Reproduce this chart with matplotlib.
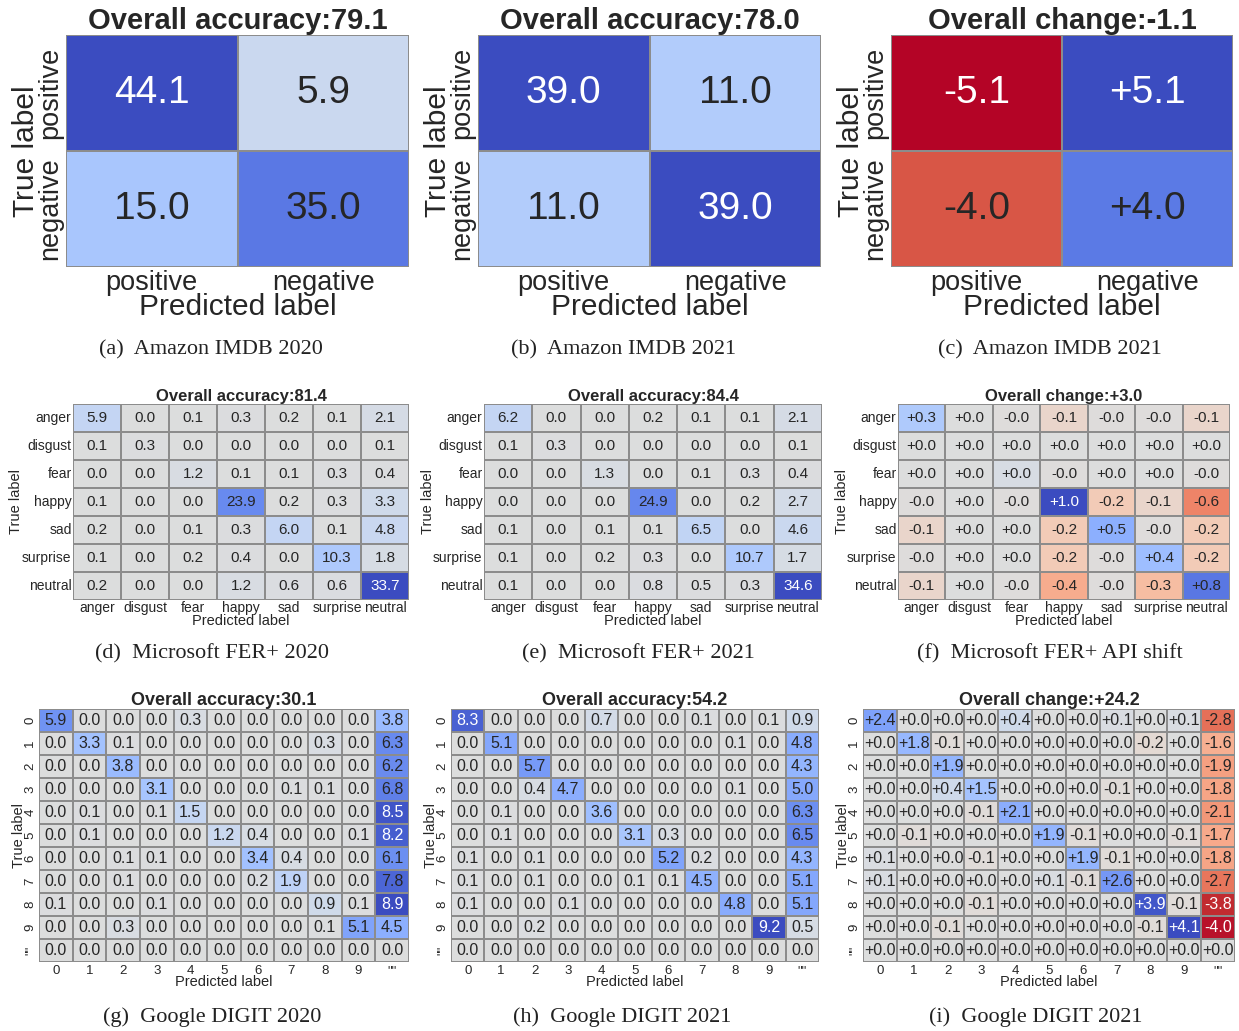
import numpy as np
import matplotlib
matplotlib.use("Agg")
import matplotlib.pyplot as plt
from matplotlib.colors import Normalize, to_rgb

plt.rcParams['font.family'] = ['Liberation Sans', 'DejaVu Sans']

# ---- data ----
imdb_labels = ["positive", "negative"]
imdb_2020 = [[44.1, 5.9], [15.0, 35.0]]
imdb_2021 = [[39.0, 11.0], [11.0, 39.0]]
imdb_diff = [[-5.1, 5.1], [-4.0, 4.0]]
imdb_acc = [79.1, 78.0, -1.1]

fer_labels = ["anger", "disgust", "fear", "happy", "sad", "surprise", "neutral"]
fer_2020 = [[5.9, 0.0, 0.1, 0.3, 0.2, 0.1, 2.1],
            [0.1, 0.3, 0.0, 0.0, 0.0, 0.0, 0.1],
            [0.0, 0.0, 1.2, 0.1, 0.1, 0.3, 0.4],
            [0.1, 0.0, 0.0, 23.9, 0.2, 0.3, 3.3],
            [0.2, 0.0, 0.1, 0.3, 6.0, 0.1, 4.8],
            [0.1, 0.0, 0.2, 0.4, 0.0, 10.3, 1.8],
            [0.2, 0.0, 0.0, 1.2, 0.6, 0.6, 33.7]]
fer_2021 = [[6.2, 0.0, 0.0, 0.2, 0.1, 0.1, 2.1],
            [0.1, 0.3, 0.0, 0.0, 0.0, 0.0, 0.1],
            [0.0, 0.0, 1.3, 0.0, 0.1, 0.3, 0.4],
            [0.0, 0.0, 0.0, 24.9, 0.0, 0.2, 2.7],
            [0.1, 0.0, 0.1, 0.1, 6.5, 0.0, 4.6],
            [0.1, 0.0, 0.2, 0.3, 0.0, 10.7, 1.7],
            [0.1, 0.0, 0.0, 0.8, 0.5, 0.3, 34.6]]
fer_diff = [[0.3, 0.0, -0.01, -0.1, -0.01, -0.01, -0.1],
            [0.0, 0.0, 0.0, 0.0, 0.0, 0.0, 0.0],
            [0.0, 0.0, 0.04, -0.01, 0.0, 0.0, -0.01],
            [-0.01, 0.0, -0.01, 1.0, -0.2, -0.1, -0.6],
            [-0.1, 0.0, 0.0, -0.2, 0.5, -0.01, -0.2],
            [-0.01, 0.0, 0.0, -0.2, -0.01, 0.4, -0.2],
            [-0.1, 0.0, -0.01, -0.4, -0.01, -0.3, 0.8]]
fer_acc = [81.4, 84.4, 3.0]

digit_labels = ["0", "1", "2", "3", "4", "5", "6", "7", "8", "9", '""']
digit_2020 = [[5.9, 0.0, 0.0, 0.0, 0.3, 0.0, 0.0, 0.0, 0.0, 0.0, 3.8],
              [0.0, 3.3, 0.1, 0.0, 0.0, 0.0, 0.0, 0.0, 0.3, 0.0, 6.3],
              [0.0, 0.0, 3.8, 0.0, 0.0, 0.0, 0.0, 0.0, 0.0, 0.0, 6.2],
              [0.0, 0.0, 0.0, 3.1, 0.0, 0.0, 0.0, 0.1, 0.1, 0.0, 6.8],
              [0.0, 0.1, 0.0, 0.1, 1.5, 0.0, 0.0, 0.0, 0.0, 0.0, 8.5],
              [0.0, 0.1, 0.0, 0.0, 0.0, 1.2, 0.4, 0.0, 0.0, 0.1, 8.2],
              [0.0, 0.0, 0.1, 0.1, 0.0, 0.0, 3.4, 0.4, 0.0, 0.0, 6.1],
              [0.0, 0.0, 0.1, 0.0, 0.0, 0.0, 0.2, 1.9, 0.0, 0.0, 7.8],
              [0.1, 0.0, 0.0, 0.1, 0.0, 0.0, 0.0, 0.0, 0.9, 0.1, 8.9],
              [0.0, 0.0, 0.3, 0.0, 0.0, 0.0, 0.0, 0.0, 0.1, 5.1, 4.5],
              [0.0, 0.0, 0.0, 0.0, 0.0, 0.0, 0.0, 0.0, 0.0, 0.0, 0.0]]
digit_2021 = [[8.3, 0.0, 0.0, 0.0, 0.7, 0.0, 0.0, 0.1, 0.0, 0.1, 0.9],
              [0.0, 5.1, 0.0, 0.0, 0.0, 0.0, 0.0, 0.0, 0.1, 0.0, 4.8],
              [0.0, 0.0, 5.7, 0.0, 0.0, 0.0, 0.0, 0.0, 0.0, 0.0, 4.3],
              [0.0, 0.0, 0.4, 4.7, 0.0, 0.0, 0.0, 0.0, 0.1, 0.0, 5.0],
              [0.0, 0.1, 0.0, 0.0, 3.6, 0.0, 0.0, 0.0, 0.0, 0.0, 6.3],
              [0.0, 0.1, 0.0, 0.0, 0.0, 3.1, 0.3, 0.0, 0.0, 0.0, 6.5],
              [0.1, 0.0, 0.1, 0.0, 0.0, 0.0, 5.2, 0.2, 0.0, 0.0, 4.3],
              [0.1, 0.0, 0.1, 0.0, 0.0, 0.1, 0.1, 4.5, 0.0, 0.0, 5.1],
              [0.1, 0.0, 0.0, 0.1, 0.0, 0.0, 0.0, 0.0, 4.8, 0.0, 5.1],
              [0.0, 0.0, 0.2, 0.0, 0.0, 0.0, 0.0, 0.0, 0.0, 9.2, 0.5],
              [0.0, 0.0, 0.0, 0.0, 0.0, 0.0, 0.0, 0.0, 0.0, 0.0, 0.0]]
digit_diff = [[2.4, 0.0, 0.0, 0.0, 0.4, 0.0, 0.0, 0.1, 0.0, 0.1, -2.8],
              [0.0, 1.8, -0.1, 0.0, 0.0, 0.0, 0.0, 0.0, -0.2, 0.0, -1.6],
              [0.0, 0.0, 1.9, 0.0, 0.0, 0.0, 0.0, 0.0, 0.0, 0.0, -1.9],
              [0.0, 0.0, 0.4, 1.5, 0.0, 0.0, 0.0, -0.1, 0.0, 0.0, -1.8],
              [0.0, 0.0, 0.0, -0.1, 2.1, 0.0, 0.0, 0.0, 0.0, 0.0, -2.1],
              [0.0, -0.1, 0.0, 0.0, 0.0, 1.9, -0.1, 0.0, 0.0, -0.1, -1.7],
              [0.1, 0.0, 0.0, -0.1, 0.0, 0.0, 1.9, -0.1, 0.0, 0.0, -1.8],
              [0.1, 0.0, 0.0, 0.0, 0.0, 0.1, -0.1, 2.6, 0.0, 0.0, -2.7],
              [0.0, 0.0, 0.0, -0.1, 0.0, 0.0, 0.0, 0.0, 3.9, -0.1, -3.8],
              [0.0, 0.0, -0.1, 0.0, 0.0, 0.0, 0.0, 0.0, -0.1, 4.1, -4.0],
              [0.0, 0.0, 0.0, 0.0, 0.0, 0.0, 0.0, 0.0, 0.0, 0.0, 0.0]]
digit_acc = [30.1, 54.2, 24.2]

captions = ["(a)  Amazon IMDB 2020", "(b)  Amazon IMDB 2021", "(c)  Amazon IMDB 2021",
            "(d)  Microsoft FER+ 2020", "(e)  Microsoft FER+ 2021", "(f)  Microsoft FER+ API shift",
            "(g)  Google DIGIT 2020", "(h)  Google DIGIT 2021", "(i)  Google DIGIT 2021"]

W, H = 1239, 1031
fig = plt.figure(figsize=(W / 100, H / 100), dpi=100)
cmap = plt.get_cmap("coolwarm_r")


def box(x0, x1, y0, y1):
    return [x0 / W, 1 - y1 / H, (x1 - x0) / W, (y1 - y0) / H]


def draw_cm(pos, data, labels, title, diff, s):
    data = np.array(data, dtype=float)
    ax = fig.add_axes(pos)
    vmax = np.abs(data).max()
    norm = Normalize(-vmax, vmax)
    n = data.shape[0]
    ax.pcolormesh(np.arange(n + 1), np.arange(n + 1), data, cmap=cmap, norm=norm,
                  edgecolors="#8c8c8c", linewidth=s["lw"])
    ax.set_xlim(0, n)
    ax.set_ylim(n, 0)
    for i in range(n):
        for j in range(n):
            v = data[i, j]
            r, g, b = to_rgb(cmap(norm(v)))
            lum = 0.2126 * r + 0.7152 * g + 0.0722 * b
            col = "#262626" if lum > 0.408 else "white"
            txt = ("%+.1f" % v) if diff else ("%.1f" % v)
            if diff and abs(v) < 0.05 and v < 0:
                txt = "-0.0"
            ax.text(j + 0.5, i + 0.5, txt, ha="center", va="center",
                    fontsize=s["annot"], color=col)
    ax.set_xticks(np.arange(n) + 0.5)
    ax.set_yticks(np.arange(n) + 0.5)
    ax.set_xticklabels(labels, fontsize=s["tick"], color="#262626")
    ax.set_yticklabels(labels, fontsize=s["tick"], color="#262626",
                       rotation=s["yrot"], va="center")
    ax.tick_params(length=0, pad=s["pad"])
    ax.set_xlabel("Predicted label", fontsize=s["label"], color="#262626", labelpad=s["lpad"])
    ax.set_ylabel("True label", fontsize=s["label"], color="#262626", labelpad=s["lpad"])
    ax.set_title(title, fontsize=s["title"], fontweight="bold", color="#262626", pad=s["tpad"])
    for sp in ax.spines.values():
        sp.set_visible(False)
    return ax


top = dict(lw=1.2, annot=28, tick=19.5, label=21.5, title=21, yrot=90, pad=2, lpad=-2, tpad=2)
mid = dict(lw=1.2, annot=11, tick=10, label=10.5, title=12, yrot=0, pad=1, lpad=-1, tpad=1)
bot = dict(lw=1.2, annot=11.5, tick=9.5, label=10.5, title=13, yrot=90, pad=2, lpad=-1, tpad=1)

def ttl(v, diff):
    return ("Overall change:%+.1f" % v) if diff else ("Overall accuracy:%.1f" % v)

row1 = [imdb_2020, imdb_2021, imdb_diff]
row2 = [fer_2020, fer_2021, fer_diff]
row3 = [digit_2020, digit_2021, digit_diff]

xs1 = [(66, 409), (478, 821), (891, 1233)]
xs2 = [(73, 409), (484, 822), (898, 1230)]
xs3 = [(39, 409), (451, 819), (863, 1235)]

for k in range(3):
    draw_cm(box(*xs1[k], 35, 267), row1[k], imdb_labels, ttl(imdb_acc[k], k == 2), k == 2, top)
    draw_cm(box(*xs2[k], 404, 600), row2[k], fer_labels, ttl(fer_acc[k], k == 2), k == 2, mid)
    draw_cm(box(*xs3[k], 709, 962), row3[k], digit_labels, ttl(digit_acc[k], k == 2), k == 2, bot)

cap_x = [[211, 624, 1050], [212, 638, 1050], [212, 622, 1036]]
cap_y = [350, 654, 1017]
for r in range(3):
    for k in range(3):
        fig.text(cap_x[r][k] / W, 1 - cap_y[r] / H, captions[r * 3 + k], ha="center", va="center",
                 fontsize=16, family=["Liberation Serif", "DejaVu Serif"], color="#222222")

fig.savefig("out.png", dpi=100, facecolor="white")
